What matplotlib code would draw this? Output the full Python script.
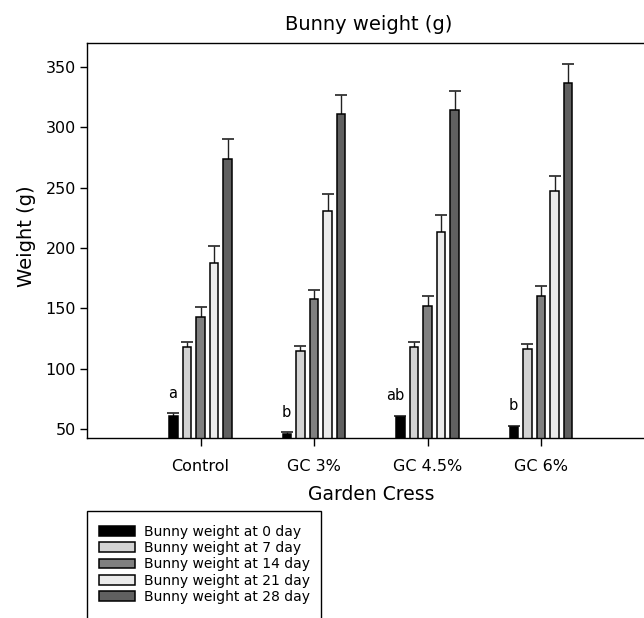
import matplotlib
matplotlib.use("Agg")
import matplotlib.pyplot as plt
import numpy as np
from matplotlib.patches import Rectangle

# === data ===
groups = ["Control", "GC 3%", "GC 4.5%", "GC 6%"]
series_names = ["Bunny weight at 0 day", "Bunny weight at 7 day",
                "Bunny weight at 14 day", "Bunny weight at 21 day",
                "Bunny weight at 28 day"]

day0 = [61, 46, 59.5, 51.5]
day7 = [118, 115, 118, 116]
day14 = [143, 157.5, 152, 160]
day21 = [188, 231, 213, 247]
day28 = [274, 311, 314.5, 337]

err0 = [2, 1.5, 1.5, 1.2]
err7 = [4.5, 4, 4, 4.5]
err14 = [8.5, 8, 8, 8.5]
err21 = [14, 14, 14, 13]
err28 = [16, 15.5, 15.5, 15.5]

sig_letters = ["a", "b", "ab", "b"]

means = [day0, day7, day14, day21, day28]
errs = [err0, err7, err14, err21, err28]
colors = ["#000000", "#d3d3d3", "#808080", "#ebebeb", "#606060"]

# === figure ===
W, H = 644, 618
fig = plt.figure(figsize=(W / 100, H / 100), dpi=100)
ax = fig.add_axes([87 / W, 1 - 438 / H, 567.5 / W, 395 / H])

x = np.arange(1, len(groups) + 1)
step = 0.12
width = 0.075

bars = []
for k, (vals, ee, col) in enumerate(zip(means, errs, colors)):
    xs = x + (k - 2) * step
    vals = np.array(vals)
    ee = np.array(ee)
    # upper error stem + cap only
    ax.errorbar(xs, vals, yerr=[np.zeros_like(ee), ee], fmt="none",
                ecolor="#222222", elinewidth=1, capsize=0, zorder=1)
    ax.plot(xs, vals + ee, linestyle="none", marker="_", markersize=8.4,
            markeredgewidth=1.2, color="#222222", zorder=1)
    b = ax.bar(xs, vals, width=width, bottom=0, color=col,
               edgecolor="black", linewidth=1.1, label=series_names[k], zorder=2)
    bars.append(b)

# significance letters over the day-0 bars
xs0 = x - 2 * step
for xi, v, e, lab in zip(xs0, day0, err0, sig_letters):
    ax.annotate(lab, (xi + width / 2, v + e), xytext=(0, 11),
                textcoords="offset points", ha="right", va="baseline",
                fontsize=10.5)

ax.set_xlim(0, 5)
ax.set_ylim(42.5, 370)
ax.set_xticks(x)
ax.set_xticklabels(groups, fontsize=11.5)
ax.set_yticks([50, 100, 150, 200, 250, 300, 350])
ax.tick_params(axis="y", labelsize=11.5, direction="out", length=5, width=1, pad=3)
ax.tick_params(axis="x", direction="out", length=6, width=1, pad=9)
for s in ax.spines.values():
    s.set_linewidth(1)

fig.text(369 / W, 1 - 25 / H, "Bunny weight (g)", ha="center", va="center", fontsize=14)
fig.text(371 / W, 1 - 494 / H, "Garden Cress", ha="center", va="center", fontsize=13.5)
fig.text(26 / W, 1 - 236 / H, "Weight (g)", ha="center", va="center",
         rotation=90, fontsize=14)

# legend with open-bottom frame
leg = fig.legend(handles=bars, labels=series_names, loc="upper left",
                 bbox_to_anchor=(87 / W, 1 - 513 / H), bbox_transform=fig.transFigure,
                 frameon=False, fontsize=10, labelspacing=0.165, handlelength=2.6,
                 handleheight=0.72, handletextpad=0.65, borderpad=0.85,
                 borderaxespad=0)
fig.patches.append(Rectangle((87 / W, -0.05), (321 - 87) / W, 0.05 + 1 - 511 / H,
                             transform=fig.transFigure, fill=False,
                             edgecolor="black", linewidth=1))

fig.savefig("out.png", dpi=100)
